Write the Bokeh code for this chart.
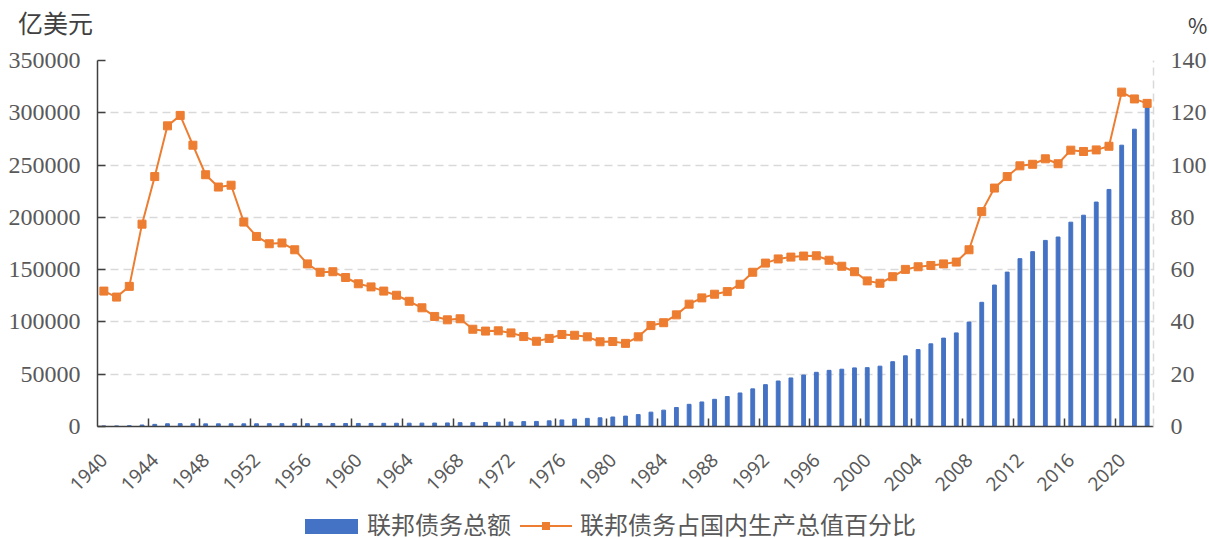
import math
from bokeh.plotting import figure
from bokeh.layouts import column
from bokeh.models import (Range1d, LinearAxis, FixedTicker, NumeralTickFormatter,
                          Div, ColumnDataSource)
from bokeh.embed import file_html
from bokeh.resources import INLINE

years = list(range(1940, 2023))
debt = [509, 575, 792, 1426, 2041, 2601, 2710, 2571, 2520, 2526,
        2568, 2553, 2591, 2660, 2708, 2744, 2727, 2723, 2797, 2875,
        2905, 2926, 3029, 3103, 3161, 3223, 3285, 3404, 3687, 3658,
        3809, 4082, 4359, 4663, 4839, 5419, 6290, 7064, 7766, 8295,
        9090, 9948, 11373, 13717, 15646, 18174, 21205, 23460, 26011, 28678,
        32063, 35982, 40018, 43510, 46433, 49206, 51815, 53692, 54782, 56055,
        56287, 57699, 61984, 67600, 73547, 79053, 84514, 89507, 99861, 118759,
        135288, 147642, 160509, 167194, 177945, 181201, 195395, 202057, 214623, 226695,
        269021, 284294, 309289]
pct = [51.8, 49.5, 53.6, 77.4, 95.6, 115.0, 119.0, 107.6, 96.3, 91.6,
       92.3, 78.2, 72.7, 69.9, 70.2, 67.6, 62.2, 59.0, 59.2, 57.0,
       54.6, 53.4, 51.8, 50.2, 47.9, 45.4, 42.1, 40.8, 41.2, 37.2,
       36.5, 36.6, 35.8, 34.4, 32.6, 33.7, 35.2, 34.9, 34.3, 32.4,
       32.5, 31.8, 34.3, 38.6, 39.7, 42.7, 46.8, 49.2, 50.6, 51.6,
       54.4, 59.0, 62.5, 64.1, 64.8, 65.2, 65.3, 63.6, 61.3, 59.2,
       55.7, 54.8, 57.3, 60.1, 61.1, 61.6, 62.2, 62.9, 67.6, 82.2,
       91.2, 95.6, 99.7, 100.3, 102.4, 100.5, 105.7, 105.2, 105.8, 107.2,
       127.9, 125.3, 123.6]
left_ticks = [0, 50000, 100000, 150000, 200000, 250000, 300000, 350000]
right_ticks = [0, 20, 40, 60, 80, 100, 120, 140]
label_years = list(range(1940, 2023, 4))
series_names = ["联邦债务总额", "联邦债务占国内生产总值百分比"]
left_unit = "亿美元"
right_unit = "%"

BLUE = "#4472C4"
ORANGE = "#ED7D31"
TXT = "#595959"
AX = "#404040"
GRID = "#D9D9D9"

HEAD_H = 40
FOOT_H = 30
FIG_H = 538 - HEAD_H - FOOT_H

src = ColumnDataSource(dict(year=years, debt=debt, pct=pct))

p = figure(width=1209, height=FIG_H, output_backend="svg", toolbar_location=None,
           title_location=None,
           x_range=Range1d(years[0] - 0.5, years[-1] + 0.5),
           y_range=Range1d(left_ticks[0], left_ticks[-1]),
           min_border_left=97, min_border_right=56, min_border_top=60 - HEAD_H,
           min_border_bottom=FIG_H - (426 - HEAD_H))
p.extra_y_ranges = {"pct": Range1d(right_ticks[0], right_ticks[-1])}
p.outline_line_color = None
p.background_fill_color = "white"
p.border_fill_color = "white"

bars = p.vbar(x="year", top="debt", width=0.3, color=BLUE, source=src)
line = p.line(x="year", y="pct", line_color=ORANGE, line_width=2, y_range_name="pct", source=src)
marks = p.scatter(x="year", y="pct", marker="square", size=8, color=ORANGE, y_range_name="pct", source=src)

# x axis
xa = p.xaxis[0]
xa.ticker = FixedTicker(ticks=label_years, minor_ticks=[y - 0.5 for y in label_years[1:]])
xa.major_label_orientation = math.pi / 4
xa.major_label_text_font = "Noto Sans"
xa.major_label_text_font_size = "19px"
xa.major_label_text_color = TXT
xa.major_label_standoff = 24
xa.axis_line_color = AX
xa.axis_line_width = 1.5
xa.major_tick_line_color = None
xa.minor_tick_line_color = AX
xa.minor_tick_line_width = 1.5
xa.minor_tick_in = 8
xa.minor_tick_out = 0

# left axis
ya = p.yaxis[0]
ya.ticker = FixedTicker(ticks=left_ticks, minor_ticks=[])
ya.formatter = NumeralTickFormatter(format="0")
ya.major_label_text_font = "Liberation Serif"
ya.major_label_text_font_size = "24px"
ya.major_label_text_color = TXT
ya.major_label_standoff = 17
ya.axis_line_color = AX
ya.axis_line_width = 1.5
ya.major_tick_line_color = AX
ya.major_tick_line_width = 1.5
ya.major_tick_in = 8
ya.major_tick_out = 0

# right axis
ra = LinearAxis(y_range_name="pct", ticker=FixedTicker(ticks=right_ticks, minor_ticks=[]))
ra.major_label_text_font = "Liberation Serif"
ra.major_label_text_font_size = "24px"
ra.major_label_text_color = TXT
ra.major_label_standoff = 11
ra.axis_line_color = GRID
ra.axis_line_dash = "8 5"
ra.axis_line_width = 1.5
ra.major_tick_line_color = None
ra.minor_tick_line_color = None
p.add_layout(ra, "right")

p.xgrid.visible = False
p.ygrid.ticker = FixedTicker(ticks=left_ticks[1:])
p.ygrid.grid_line_color = GRID
p.ygrid.grid_line_dash = "8 5"
p.ygrid.grid_line_width = 1.5

head = Div(width=1209, height=HEAD_H, margin=0, text=(
    '<div style="position:relative;width:1209px;height:%dpx;'
    'font-family:\'Noto Sans CJK SC\';color:%s;line-height:1;">'
    '<span style="position:absolute;left:18px;top:10px;font-size:25px;line-height:1;">%s</span>'
    '<span style="position:absolute;left:1188px;top:15px;font-size:21px;line-height:1;">%s</span>'
    '</div>') % (HEAD_H, AX, left_unit, right_unit))

foot = Div(width=1209, height=FOOT_H, margin=0, text=(
    '<div style="position:relative;width:1209px;height:%dpx;'
    'font-family:\'Noto Sans CJK SC\';color:%s;font-size:24px;line-height:1;">'
    '<div style="position:absolute;left:305px;top:11px;width:53px;height:15px;background:%s;"></div>'
    '<span style="position:absolute;left:367px;top:4px;line-height:1;">%s</span>'
    '<div style="position:absolute;left:520px;top:17px;width:52px;height:2px;background:%s;"></div>'
    '<div style="position:absolute;left:542px;top:14px;width:8px;height:8px;background:%s;"></div>'
    '<span style="position:absolute;left:580px;top:4px;line-height:1;">%s</span>'
    '</div>') % (FOOT_H, TXT, BLUE, series_names[0], ORANGE, ORANGE, series_names[1]))

layout = column(head, p, foot, spacing=0)

open("out.html", "w").write(file_html(layout, INLINE))
